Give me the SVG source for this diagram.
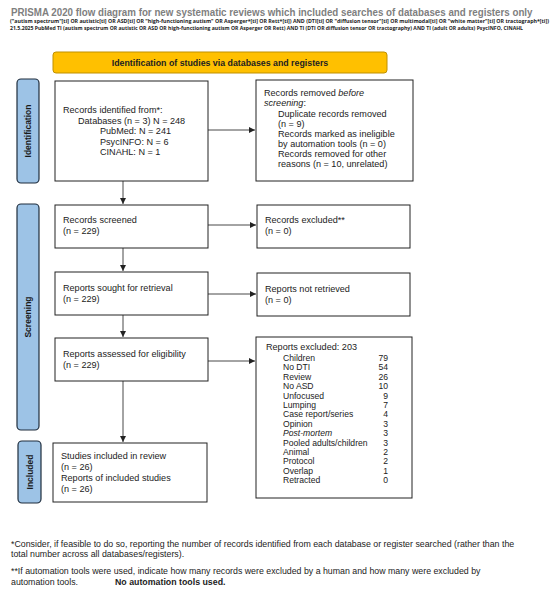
<svg xmlns="http://www.w3.org/2000/svg" width="550" height="596" viewBox="0 0 550 596">
<style>
  .t{font-family:"Liberation Sans",Arial,sans-serif;font-size:9.1px;fill:#222}
  .s{font-family:"Liberation Sans",Arial,sans-serif;font-size:8.6px;fill:#222}
  .box{fill:#fff;stroke:#222;stroke-width:1}
  .side{fill:#9DC3E6;stroke:#1f2d3d;stroke-width:1.2}
  .sideT{font-family:"Liberation Sans",Arial,sans-serif;font-size:8.5px;font-weight:bold;fill:#1a1a1a;text-anchor:middle}
  .conn{stroke:#333;stroke-width:0.9;fill:none;marker-end:url(#ah)}
  .foot{font-family:"Liberation Sans",Arial,sans-serif;font-size:8.8px;fill:#222}
  .hdr{font-family:"Open Sans","Liberation Sans",sans-serif;font-weight:bold;fill:#222}
</style>
<defs>
  <marker id="ah" markerWidth="7" markerHeight="7" refX="6" refY="3.5" orient="auto" markerUnits="userSpaceOnUse">
    <path d="M0,0.5 L6,3.5 L0,6.5 z" fill="#222"/>
  </marker>
</defs>
<rect width="550" height="596" fill="#fff"/>
<g id="header">
  <text transform="translate(11,16) scale(0.82,1)" x="0" y="0" font-family="'Liberation Sans',Arial,sans-serif" font-weight="bold" font-size="11" fill="#808080" textLength="636" lengthAdjust="spacingAndGlyphs">PRISMA 2020 flow diagram for new systematic reviews which included searches of databases and registers only</text>
  <text x="10" y="22.8" class="hdr" font-size="4.6" textLength="539" lengthAdjust="spacingAndGlyphs">("autism spectrum"[ti] OR autistic[ti] OR ASD[ti] OR "high-functioning autism" OR Asperger*[ti] OR Rett*[ti]) AND (DTI[ti] OR "diffusion tensor"[ti] OR multimodal[ti] OR "white matter"[ti] OR tractograph*[ti])</text>
  <text x="10" y="30" class="hdr" font-size="4.6" textLength="513" lengthAdjust="spacingAndGlyphs">21.5.2025 PubMed TI (autism spectrum OR autistic OR ASD OR high-functioning autism OR Asperger OR Rett) AND TI (DTI OR diffusion tensor OR tractography) AND TI (adult OR adults) PsycINFO, CINAHL</text>
</g>
<g id="banner">
  <rect x="53" y="52" width="334" height="21" rx="3" fill="#FFC000" stroke="#BF9000" stroke-width="1"/>
  <text x="220" y="65.5" font-family="'Liberation Sans',Arial,sans-serif" font-size="8.8" font-weight="bold" fill="#222" text-anchor="middle">Identification of studies via databases and registers</text>
</g>
<g id="side-identification">
  <rect x="17" y="79" width="22" height="104" rx="4" class="side"/>
  <text class="sideT" transform="translate(31,131) rotate(-90)">Identification</text>
</g>
<g id="side-screening">
  <rect x="17" y="204" width="22" height="226" rx="4" class="side"/>
  <text class="sideT" transform="translate(31,317) rotate(-90)">Screening</text>
</g>
<g id="side-included">
  <rect x="18" y="441" width="23" height="62" rx="4" class="side"/>
  <text class="sideT" transform="translate(32.5,472) rotate(-90)">Included</text>
</g>
<g id="connectors">
  <line x1="208" y1="130" x2="255" y2="130" class="conn"/>
  <line x1="123" y1="181" x2="123" y2="204" class="conn"/>
  <line x1="208" y1="225" x2="256" y2="225" class="conn"/>
  <line x1="123" y1="248" x2="123" y2="271" class="conn"/>
  <line x1="208" y1="294" x2="256" y2="294" class="conn"/>
  <line x1="123" y1="315" x2="123" y2="337" class="conn"/>
  <line x1="208" y1="361" x2="255" y2="361" class="conn"/>
  <line x1="123" y1="381" x2="123" y2="442" class="conn"/>
</g>
<g id="records-identified">
  <rect x="55" y="81" width="153" height="100" class="box"/>
  <text class="t" x="63" y="113">Records identified from*:</text>
  <text class="t" x="78" y="123.5">Databases (n = 3) N = 248</text>
  <text class="t" x="100" y="134">PubMed: N = 241</text>
  <text class="t" x="100" y="144.5">PsycINFO: N = 6</text>
  <text class="t" x="100" y="155">CINAHL: N = 1</text>
</g>
<g id="records-removed">
  <rect x="256" y="80" width="157" height="101" class="box"/>
  <text class="t" x="264" y="96">Records removed <tspan font-style="italic">before</tspan></text>
  <text class="t" x="264" y="106" font-style="italic">screening<tspan font-style="normal">:</tspan></text>
  <text class="t" x="278" y="116.5">Duplicate records removed</text>
  <text class="t" x="278" y="126.5">(n = 9)</text>
  <text class="t" x="278" y="137">Records marked as ineligible</text>
  <text class="t" x="278" y="147">by automation tools (n = 0)</text>
  <text class="t" x="278" y="157">Records removed for other</text>
  <text class="t" x="278" y="167">reasons (n = 10, unrelated)</text>
</g>
<g id="records-screened">
  <rect x="55" y="205" width="153" height="43" class="box"/>
  <text class="t" x="63" y="223">Records screened</text>
  <text class="t" x="63" y="234">(n = 229)</text>
</g>
<g id="records-excluded">
  <rect x="257" y="205" width="153" height="43" class="box"/>
  <text class="t" x="265" y="223">Records excluded**</text>
  <text class="t" x="265" y="234">(n = 0)</text>
</g>
<g id="reports-sought">
  <rect x="55" y="272" width="153" height="43" class="box"/>
  <text class="t" x="63" y="291">Reports sought for retrieval</text>
  <text class="t" x="63" y="302">(n = 229)</text>
</g>
<g id="reports-not-retrieved">
  <rect x="257" y="273" width="153" height="43" class="box"/>
  <text class="t" x="265" y="292">Reports not retrieved</text>
  <text class="t" x="265" y="303">(n = 0)</text>
</g>
<g id="reports-assessed">
  <rect x="55" y="338" width="153" height="43" class="box"/>
  <text class="t" x="63" y="357">Reports assessed for eligibility</text>
  <text class="t" x="63" y="368">(n = 229)</text>
</g>
<g id="reports-excluded">
  <rect x="256" y="337" width="156" height="161" class="box"/>
  <text class="t" x="266" y="349.5">Reports excluded: 203</text>
  <g class="s">
    <text x="283" y="361">Children</text><text x="388" y="361" text-anchor="end">79</text>
    <text x="283" y="370.4">No DTI</text><text x="388" y="370.4" text-anchor="end">54</text>
    <text x="283" y="379.8">Review</text><text x="388" y="379.8" text-anchor="end">26</text>
    <text x="283" y="389.2">No ASD</text><text x="388" y="389.2" text-anchor="end">10</text>
    <text x="283" y="398.6">Unfocused</text><text x="388" y="398.6" text-anchor="end">9</text>
    <text x="283" y="408">Lumping</text><text x="388" y="408" text-anchor="end">7</text>
    <text x="283" y="417.4">Case report/series</text><text x="388" y="417.4" text-anchor="end">4</text>
    <text x="283" y="426.8">Opinion</text><text x="388" y="426.8" text-anchor="end">3</text>
    <text x="283" y="436.2" font-style="italic">Post-mortem</text><text x="388" y="436.2" text-anchor="end">3</text>
    <text x="283" y="445.6">Pooled adults/children</text><text x="388" y="445.6" text-anchor="end">3</text>
    <text x="283" y="455">Animal</text><text x="388" y="455" text-anchor="end">2</text>
    <text x="283" y="464.4">Protocol</text><text x="388" y="464.4" text-anchor="end">2</text>
    <text x="283" y="473.8">Overlap</text><text x="388" y="473.8" text-anchor="end">1</text>
    <text x="283" y="483.2">Retracted</text><text x="388" y="483.2" text-anchor="end">0</text>
  </g>
</g>
<g id="studies-included">
  <rect x="53" y="443" width="154" height="59" class="box"/>
  <text class="t" x="61" y="459">Studies included in review</text>
  <text class="t" x="61" y="470">(n = 26)</text>
  <text class="t" x="61" y="480.5">Reports of included studies</text>
  <text class="t" x="61" y="491.5">(n = 26)</text>
</g>
<g id="footnotes">
  <text class="foot" x="11" y="546.5">*Consider, if feasible to do so, reporting the number of records identified from each database or register searched (rather than the</text>
  <text class="foot" x="11" y="557">total number across all databases/registers).</text>
  <text class="foot" x="11" y="573.5">**If automation tools were used, indicate how many records were excluded by a human and how many were excluded by</text>
  <text class="foot" x="11" y="584.5">automation tools.</text>
  <text class="foot" x="115" y="584.5" font-weight="bold">No automation tools used.</text>
</g>
</svg>
